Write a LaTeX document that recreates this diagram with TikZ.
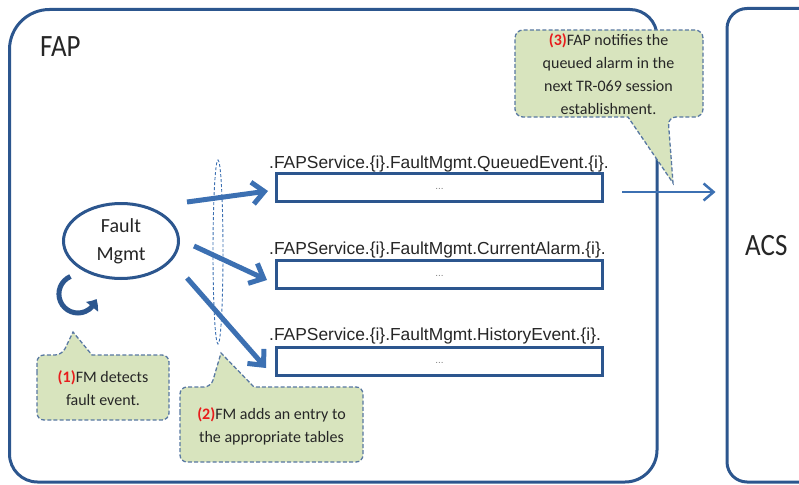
\documentclass[tikz,border=0pt]{standalone}
\usepackage{fontspec}
\usepackage{graphicx}
\setmainfont{Carlito}
\newfontfamily\arialf{Liberation Sans}
\usetikzlibrary{arrows.meta,shapes.geometric,bending}

\definecolor{framecol}{RGB}{44,86,142}
\definecolor{arrowcol}{RGB}{60,112,178}
\definecolor{notefill}{RGB}{216,228,190}
\definecolor{noteline}{RGB}{88,120,162}
\definecolor{notetext}{RGB}{38,38,38}
\definecolor{stepred}{RGB}{232,28,28}

\tikzset{
  frame/.style={draw=framecol, line width=3pt},
  tablebox/.style={draw=framecol, line width=3pt, minimum width=326pt,
    minimum height=28pt, inner sep=0pt, font=\arialf\fontsize{10}{10}\selectfont, text=gray},
  pathlabel/.style={anchor=base west, inner sep=0pt,
    font=\arialf\fontsize{17.4}{17.4}\selectfont, text=black!85},
  bigarrow/.style={draw=arrowcol, line width=5pt,
    -{Straight Barb[length=12pt,width=22pt]}},
  thinarrow/.style={draw=arrowcol, line width=2.5pt,
    -{Straight Barb[length=10pt,width=17pt]}},
  note/.style={fill=notefill, draw=noteline, line width=1.3pt,
    dash pattern=on 4pt off 2.2pt},
  notetext/.style={align=center, inner sep=0pt, text=notetext,
    font=\fontsize{16}{23}\selectfont},
  bigtitle/.style={anchor=base west, inner sep=0pt, text=black!85,
    font=\fontsize{31}{31}\selectfont},
}
\newcommand{\stepno}[1]{\textcolor{stepred}{\textbf{(#1)}}}

\begin{document}
\begin{tikzpicture}[x=1pt,y=-1pt]
\useasboundingbox (0,0) rectangle (799,484);
\clip (0,0) rectangle (799,484);

% FAP container
\draw[frame] (9.5,250) -- (9.5,49.5) arc[start angle=180,end angle=90,radius=40pt]
  -- (630,9.5) arc[start angle=90,end angle=0,radius=27pt]
  -- (657,450) arc[start angle=0,end angle=-90,radius=32pt]
  -- (37.5,482) arc[start angle=270,end angle=180,radius=28pt] -- cycle;
\node[bigtitle] (fap) at (40,57) {\scalebox{0.87}[1]{FAP}};

% ACS container
\node[frame, rounded corners=20pt, minimum width=150pt, minimum height=473.5pt,
  inner sep=0pt] (acs) at (802,245.25) {};
\node[bigtitle] (acslabel) at (745,255) {\scalebox{0.87}[1]{ACS}};

% Fault management entity
\node[frame, ellipse, minimum width=115pt, minimum height=75pt, inner sep=0pt,
  align=center, font=\fontsize{20}{28}\selectfont, text=black!85] (fm) at (121,241)
  {Fault\\Mgmt};

% self-loop below the entity
\draw[draw=framecol, line width=5pt, -{Triangle[length=9pt,width=15pt,bend]}]
  (70.5,276.5) arc[start angle=113,end angle=345,radius=19pt];

% grouping of the three table arrows
\node[draw=arrowcol, ellipse, line width=0.9pt, dash pattern=on 3pt off 2pt,
  minimum width=10pt, minimum height=184pt, inner sep=0pt] (grp) at (218,252) {};

% tables
\node[pathlabel] (lq) at (269,168) {.FAPService.\{i\}.FaultMgmt.QueuedEvent.\{i\}.};
\node[tablebox] (tq) at (439.5,187.5) {\raisebox{-4pt}{...}};
\node[pathlabel] (lc) at (269,254) {.FAPService.\{i\}.FaultMgmt.CurrentAlarm.\{i\}.};
\node[tablebox] (tc) at (439.5,274) {\raisebox{-4pt}{...}};
\node[pathlabel] (lh) at (269,340) {.FAPService.\{i\}.FaultMgmt.HistoryEvent.\{i\}.};
\node[tablebox] (th) at (439.5,361) {\raisebox{-4pt}{...}};

% arrows from the entity to the tables
\coordinate (s1) at (187,202);  \coordinate (e1) at (268,191);
\coordinate (s2) at (194,246);  \coordinate (e2) at (267,280);
\coordinate (s3) at (187,278);  \coordinate (e3) at (266,368);
\draw[bigarrow] (s1) -- (e1);
\draw[bigarrow] (s2) -- (e2);
\draw[bigarrow] (s3) -- (e3);

% notification towards the ACS
\coordinate (n0) at (622,192);
\draw[thinarrow, shorten >=10pt] (n0) -- (n0 -| acs.west);

% callout (1)
\draw[note] (37,380) [rounded corners=7pt] -- (37,355) -- (62,355)
  [sharp corners] -- (73,332) -- (92,355)
  [rounded corners=7pt] -- (169,355) -- (169,420) -- (37,420) -- cycle;
\node[notetext] (c1) at (103,388) {\stepno{1}FM detects\\fault event.};

% callout (2)
\draw[note] (180,420) [rounded corners=7pt] -- (180,387) -- (211,387)
  [sharp corners] -- (221,353) -- (254,387)
  [rounded corners=7pt] -- (363,387) -- (363,462) -- (180,462) -- cycle;
\node[notetext] (c2) at (271.5,426) {\stepno{2}FM adds an entry to\\the appropriate tables};

% callout (3)
\draw[note] (515,70) [rounded corners=8pt] -- (515,30) -- (703,30) -- (703,117) -- (668,117)
  [sharp corners] -- (673,183) -- (628,117)
  [rounded corners=8pt] -- (515,117) -- cycle;
\node[notetext] (c3) at (608.5,74) {\stepno{3}FAP notifies the\\queued alarm in the\\next TR-069 session\\establishment.};
\end{tikzpicture}
\end{document}
